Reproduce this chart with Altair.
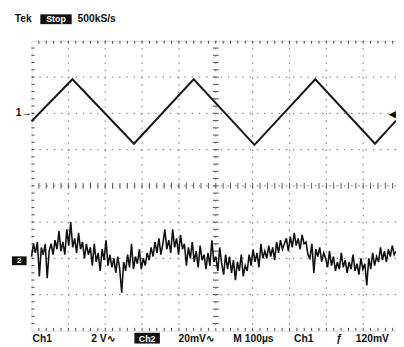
import altair as alt
import pandas as pd
import numpy as np

# ---- data (time in µs, vertical in screen divisions) ----
ch1_t = [0, 111, 278, 440, 605, 770, 932, 989]
ch1_v = [1.78, 2.94, 1.16, 2.94, 1.13, 2.94, 1.16, 1.80]

SAMPLE_US = 5.32
ch2_v = [
    -1.95, -1.6, -1.85, -1.55, -2.5, -1.7, -1.9, -1.6, -2.55, -1.8,
    -1.6, -1.9, -1.5, -1.75, -1.25, -1.8, -1.55, -1.9, -1.2, -1.65,
    -1.0, -1.7, -1.45, -1.85, -1.3, -1.75, -1.55, -2.0, -1.6, -1.9,
    -1.7, -2.2, -1.6, -2.1, -1.85, -2.35, -1.75, -2.05, -1.5, -2.2,
    -1.9, -2.25, -2.0, -2.4, -1.95, -2.3, -2.95, -2.1, -2.35, -1.9,
    -2.25, -1.6, -2.3, -1.95, -2.15, -1.75, -2.3, -2.0, -2.2, -1.85,
    -2.05, -1.7, -1.95, -1.55, -1.85, -1.45, -1.9, -1.6, -1.2, -1.75,
    -1.5, -1.85, -1.2, -1.7, -1.45, -1.9, -1.35, -1.75, -1.6, -2.2,
    -1.7, -2.0, -1.55, -2.1, -1.8, -2.25, -1.65, -2.05, -1.9, -2.3,
    -1.85, -2.2, -1.5, -2.1, -1.95, -2.35, -1.7, -2.15, -2.45, -1.9,
    -2.3, -1.95, -2.4, -2.05, -2.6, -2.1, -2.35, -1.9, -2.5, -2.2,
    -2.35, -1.9, -2.2, -1.75, -2.1, -1.85, -2.25, -1.6, -2.0, -1.8,
    -2.0, -1.65, -1.95, -1.7, -2.05, -1.55, -1.85, -1.5, -1.75, -1.6,
    -1.45, -1.8, -1.4, -1.7, -1.3, -1.65, -1.45, -1.75, -1.35, -1.6,
    -1.55, -1.9, -2.0, -1.6, -2.4, -1.75, -1.95, -1.7, -2.1, -1.85,
    -2.0, -2.25, -1.8, -2.2, -1.95, -2.35, -2.1, -2.3, -1.85, -2.25,
    -2.05, -2.4, -2.1, -2.3, -1.9, -2.35, -2.15, -2.45, -2.0, -2.3,
    -2.15, -2.75, -2.0, -2.3, -1.85, -2.2, -1.95, -2.1, -1.7, -2.05,
    -1.8, -2.1, -1.75, -1.95, -1.65, -1.9, -1.8,
]

grid_t = [100, 200, 300, 400, 500, 600, 700, 800, 900]
grid_v = [-3, -2, -1, 0, 1, 2, 3]

W, H = 372, 296
T_MAX = 989
XS = alt.Scale(domain=[0, T_MAX], nice=False, zero=False)
YS = alt.Scale(domain=[-4, 4], nice=False, zero=False)

ch1 = pd.DataFrame({"t": ch1_t, "v": ch1_v})
ch2 = pd.DataFrame({"t": [i * SAMPLE_US for i in range(len(ch2_v))], "v": ch2_v})
gx = pd.DataFrame({"t": grid_t})
gy = pd.DataFrame({"v": grid_v})
tick_t = pd.DataFrame({"t": np.arange(20, T_MAX, 20)})
tick_v = pd.DataFrame({"v": np.round(np.arange(-3.8, 4.0, 0.2), 2)})
one = pd.DataFrame({"a": [0]})

GRID = "#8a8a8a"
FONT = "Liberation Sans"

vgrid = alt.Chart(gx).mark_rule(color=GRID, strokeWidth=1.2, strokeDash=[1.4, 6.0]).encode(
    x=alt.X("t:Q", scale=XS, axis=None))
hgrid = alt.Chart(gy).mark_rule(color=GRID, strokeWidth=1.2, strokeDash=[1.4, 6.0]).encode(
    y=alt.Y("v:Q", scale=YS, axis=None))

cx = W * 500 / T_MAX
ctick_h = alt.Chart(tick_t).mark_rule(color="#555", strokeWidth=1).encode(
    x=alt.X("t:Q", scale=XS, axis=None), y=alt.value(H / 2 - 3), y2=alt.value(H / 2 + 3))
ctick_v = alt.Chart(tick_v).mark_rule(color="#555", strokeWidth=1).encode(
    y=alt.Y("v:Q", scale=YS, axis=None), x=alt.value(cx - 3), x2=alt.value(cx + 3))
etop = alt.Chart(tick_t).mark_rule(color="#444", strokeWidth=1).encode(
    x=alt.X("t:Q", scale=XS, axis=None), y=alt.value(0), y2=alt.value(3))
ebot = alt.Chart(tick_t).mark_rule(color="#444", strokeWidth=1).encode(
    x=alt.X("t:Q", scale=XS, axis=None), y=alt.value(H - 3), y2=alt.value(H))
eleft = alt.Chart(tick_v).mark_rule(color="#444", strokeWidth=1).encode(
    y=alt.Y("v:Q", scale=YS, axis=None), x=alt.value(0), x2=alt.value(3))

line1 = alt.Chart(ch1).mark_line(color="#1a1a1a", strokeWidth=2).encode(
    x=alt.X("t:Q", scale=XS, axis=None), y=alt.Y("v:Q", scale=YS, axis=None))
line2 = alt.Chart(ch2).mark_line(color="#111", strokeWidth=1.6).encode(
    x=alt.X("t:Q", scale=XS, axis=None), y=alt.Y("v:Q", scale=YS, axis=None))


def txt(s, x, y, color="#111", size=10.5, align="left", base="middle"):
    return alt.Chart(one).mark_text(text=s, font=FONT, fontSize=size, fontWeight="bold",
                                    color=color, align=align, baseline=base).encode(
        x=alt.value(x), y=alt.value(y))


def box(x1, x2, y1, y2):
    return alt.Chart(one).mark_rect(color="#111").encode(
        x=alt.value(x1), x2=alt.value(x2), y=alt.value(y1), y2=alt.value(y2))


labels = [
    txt("Tek", -17, -22.5),
    box(9, 41, -27, -17), txt("Stop", 25, -22, color="white", size=9, align="center"),
    txt("500kS/s", 47, -22.5),
    txt("1→", -16, 74),
    box(-20, -5, 220, 229), txt("2", -12.5, 224.5, color="white", size=8, align="center"),
    txt("◀", 372, 75, size=9, align="right"),
    txt("Ch1", 1, 304),
    txt("2 V∿", 61, 304),
    box(105, 131, 298, 309), txt("Ch2", 118, 304, color="white", size=9, align="center"),
    txt("20mV∿", 150, 304),
    txt("M 100µs", 206, 304),
    txt("Ch1", 268, 304),
    txt("ƒ", 311, 304),
    txt("120mV", 331, 304),
]

chart = alt.layer(vgrid, hgrid, ctick_h, ctick_v, etop, ebot, eleft, line2, line1, *labels).properties(
    width=W, height=H,
    autosize=alt.AutoSizeParams(type="none"),
    padding={"left": 24, "top": 30, "right": 0, "bottom": 12},
).configure_view(stroke="#222", strokeWidth=1.2).configure(background="white")

chart.save("out.html", embed_options={"renderer": "svg", "actions": False})
